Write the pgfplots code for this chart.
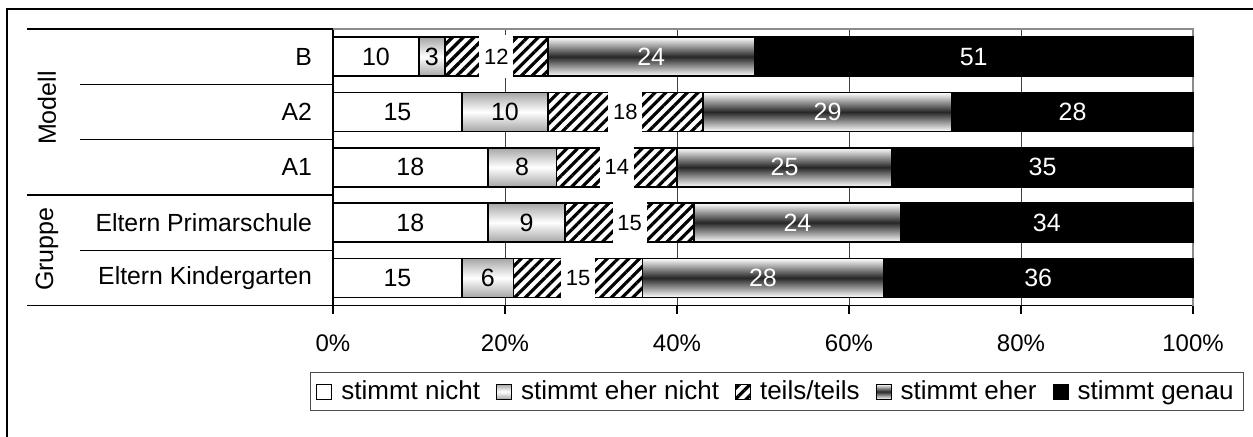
\documentclass[border=0pt]{standalone}
\usepackage{fontspec}
\setmainfont{Liberation Sans}
\usepackage{pgfplots}
\pgfplotsset{compat=1.18}
\usetikzlibrary{patterns.meta}
\pgfplotsset{
 mybar/.style={xbar, bar shift=0pt, bar width=19.5pt, draw=black, line width=0.75pt,
   legend image code/.code={\draw[##1, line width=0.5pt] (0pt,-3.75pt) rectangle (7.5pt,3.75pt);}},
 eher/.style={mybar, top color=white, bottom color=white, middle color=black!85},
 ehernicht/.style={mybar, top color=black!35, bottom color=black!35, middle color=white},
 lbl/.style={forget plot, only marks, mark=none, nodes near coords, point meta=explicit symbolic},
}
\begin{document}
\begin{tikzpicture}
\useasboundingbox (0,0) rectangle (626.5pt,218pt);
\fill[white] (0,0) rectangle (626.5pt,218pt);
\draw[line width=0.9pt] (3.5pt,-5pt) -- (3.5pt,213.5pt) -- (640pt,213.5pt);
\begin{axis}[
 at={(166.5pt,65.25pt)}, anchor=south west,
 scale only axis, width=430pt, height=138.25pt,
 xmin=0, xmax=100, ymin=-0.5, ymax=4.5,
 clip=false,
 axis x line*=bottom, axis y line*=left,
 axis line style={black, line width=0.6pt},
 xtick={0,20,40,60,80,100},
 xticklabels={0\%,20\%,40\%,60\%,80\%,100\%},
 ytick={0,1,2,3,4},
 yticklabels={Eltern Kindergarten,Eltern Primarschule,A1,A2,B},
 tick align=outside, major tick length=4pt,
 xtick style={black, line width=0.6pt},
 ytick style={draw=none},
 xmajorgrids, grid style={black!75, line width=0.5pt},
 x tick label style={font=\fontsize{12}{14}\selectfont, yshift=-7pt},
 y tick label style={font=\fontsize{12.4}{14}\selectfont, xshift=-3pt},
 legend columns=5, reverse legend,
 legend style={at={(0.5163,-0.3116)}, anchor=center, draw=black!70, line width=0.6pt,
   font=\fontsize{13}{15}\selectfont,
   /tikz/every odd column/.append style={column sep=2.5pt},
   /tikz/every even column/.append style={column sep=6pt}},
]
\draw[black!45, line width=0.6pt] (rel axis cs:0,1) -- (rel axis cs:1,1) -- (rel axis cs:1,0);
% stimmt genau (cumulative 100)
\addplot[mybar, fill=black] coordinates {(100,0) (100,1) (100,2) (100,3) (100,4)};
\addlegendentry{stimmt genau}
% stimmt eher (cumulative)
\addplot[eher] coordinates {(64,0)};
\addlegendentry{stimmt eher}
\addplot[eher, forget plot] coordinates {(66,1)};
\addplot[eher, forget plot] coordinates {(65,2)};
\addplot[eher, forget plot] coordinates {(72,3)};
\addplot[eher, forget plot] coordinates {(49,4)};
% teils/teils (cumulative)
\addplot[mybar, fill=white, forget plot] coordinates {(36,0) (42,1) (40,2) (43,3) (25,4)};
\addplot[mybar, pattern={Lines[angle=45,distance=3.8pt,line width=1.6pt]}, pattern color=black] coordinates {(36,0) (42,1) (40,2) (43,3) (25,4)};
\addlegendentry{teils/teils}
% stimmt eher nicht (cumulative)
\addplot[ehernicht] coordinates {(21,0)};
\addlegendentry{stimmt eher nicht}
\addplot[ehernicht, forget plot] coordinates {(27,1)};
\addplot[ehernicht, forget plot] coordinates {(26,2)};
\addplot[ehernicht, forget plot] coordinates {(25,3)};
\addplot[ehernicht, forget plot] coordinates {(13,4)};
% stimmt nicht
\addplot[mybar, fill=white] coordinates {(15,0) (18,1) (18,2) (15,3) (10,4)};
\addlegendentry{stimmt nicht}
% labels
\addplot[lbl, every node near coord/.append style={anchor=center, font=\fontsize{12.5}{13}\selectfont, text=black}]
 coordinates {(5,4)[10] (11.5,4)[3] (7.5,3)[15] (20,3)[10] (9,2)[18] (22,2)[8] (9,1)[18] (22.5,1)[9] (7.5,0)[15] (18,0)[6]};
\addplot[lbl, every node near coord/.append style={anchor=center, font=\fontsize{11}{12}\selectfont, text=black, fill=white, inner xsep=2.4pt, minimum height=21.5pt}]
 coordinates {(19,4)[12] (34,3)[18] (33,2)[14] (34.5,1)[15] (28.5,0)[15]};
\addplot[lbl, every node near coord/.append style={anchor=center, font=\fontsize{12.5}{13}\selectfont, text=white}]
 coordinates {(37,4)[24] (74.5,4)[51] (57.5,3)[29] (86,3)[28] (52.5,2)[25] (82.5,2)[35] (54,1)[24] (83,1)[34] (50,0)[28] (82,0)[36]};
% category separators
\draw[black, line width=0.6pt] (rel axis cs:-0.3558,0) -- (rel axis cs:0,0);
\draw[black, line width=0.6pt] (rel axis cs:-0.3558,0.4) -- (rel axis cs:0,0.4);
\draw[black, line width=0.6pt] (rel axis cs:-0.3558,1) -- (rel axis cs:0,1);
\draw[black, line width=0.6pt] (rel axis cs:-0.2942,0.2) -- (rel axis cs:0,0.2);
\draw[black, line width=0.6pt] (rel axis cs:-0.2942,0.6) -- (rel axis cs:0,0.6);
\draw[black, line width=0.6pt] (rel axis cs:-0.2942,0.8) -- (rel axis cs:0,0.8);
\node[rotate=90, font=\fontsize{12.5}{14}\selectfont] at (rel axis cs:-0.3326,0.714) {Modell};
\node[rotate=90, font=\fontsize{12.5}{14}\selectfont] at (rel axis cs:-0.3326,0.204) {Gruppe};
\end{axis}
\end{tikzpicture}
\end{document}
